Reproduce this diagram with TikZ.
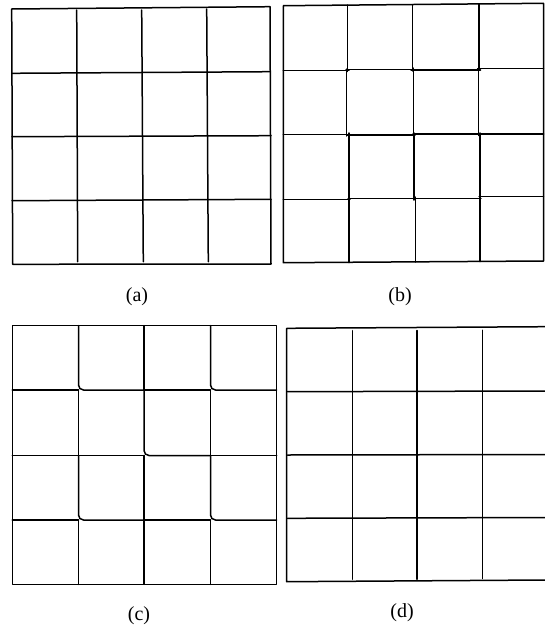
\documentclass[tikz,border=0pt]{standalone}
\usepackage{fontspec}
\setmainfont{Liberation Serif}
\begin{document}
\begin{tikzpicture}[x=1pt,y=-1pt,
  gridline/.style={line width=1.5pt,line cap=round,line join=round,black},
  caption/.style={font=\fontsize{20}{23}\selectfont,inner sep=0pt}]
\useasboundingbox (0,0) rectangle (545,632);
% ---------- (a) regular grid ----------
\draw[gridline] (11.7,9)--(270,6.7)--(271,264)--(12.7,264.3)--cycle;
\draw[gridline] (76.7,10)--(77.7,261.7);
\draw[gridline] (141.7,10)--(143.3,261.7);
\draw[gridline] (206.7,9)--(208.3,261.7);
\draw[gridline] (12,73.3)--(270,71.7);
\draw[gridline] (12,136.7)--(271,135.7);
\draw[gridline] (12,200.7)--(271,199.3);
% ---------- (b) staggered grid ----------
\draw[gridline] (283.3,5.7)--(543.5,3.3)--(543.5,261)--(283.3,262.7)--cycle;
% vertical segments: x / ytop / ybottom
\foreach \x/\ya/\yb in {
  347.7/5/71.5, 346.7/69/136, 349/133/200, 349/197/262.5,
  412.3/4.5/71, 413.3/68/136, 414/133/200, 415.3/197/262,
  479/4/70, 478.3/67/135.5, 480/133/199, 480/196/261.5}
  \draw[gridline] (\x,\ya)--(\x,\yb);
% horizontal segments: y / xleft / xright
\foreach \y/\xa/\xb in {
  70.7/283.3/349, 69.3/346/414.5, 70/411/480.5, 68.3/477.5/543.5,
  134.3/283.3/348, 135/347/415, 134/413/481, 134/477.5/543.5,
  199.3/283.3/350, 198.3/348/416, 198.3/413/481, 196.7/479/543.5}
  \draw[gridline] (\xa,\y)--(\xb,\y);
% ---------- (c) grid with rounded corners ----------
\def\cxa{12.3}\def\cxb{78.5}\def\cxc{144}\def\cxd{210.5}\def\cxe{276.7}
\def\cya{325.7}\def\cyb{390}\def\cyc{455.5}\def\cyd{520}\def\cye{584.3}
\draw[gridline] (\cxa,\cya) rectangle (\cxe,\cye);
% rounded junctions
\draw[gridline,rounded corners=5pt] (\cxb,\cya)--(\cxb,\cyb)--(\cxc,\cyb);
\draw[gridline,rounded corners=5pt] (\cxd,\cya)--(\cxd,\cyb)--(\cxe,\cyb);
\draw[gridline,rounded corners=5pt] (\cxc,\cyb)--(\cxc,\cyc)--(\cxd,\cyc);
\draw[gridline,rounded corners=5pt] (\cxb,\cyc)--(\cxb,\cyd)--(\cxc,\cyd);
\draw[gridline,rounded corners=5pt] (\cxd,\cyc)--(\cxd,\cyd)--(\cxe,\cyd);
% straight vertical segments
\draw[gridline] (\cxb,\cyb)--(\cxb,\cyc);
\draw[gridline] (\cxb,\cyd)--(\cxb,\cye);
\draw[gridline] (\cxc,\cya)--(\cxc,\cyb);
\draw[gridline] (\cxc,\cyc)--(\cxc,\cye);
\draw[gridline] (\cxd,\cyb)--(\cxd,\cyc);
\draw[gridline] (\cxd,\cyd)--(\cxd,\cye);
% straight horizontal segments
\draw[gridline] (\cxa,\cyb)--(\cxb,\cyb);
\draw[gridline] (\cxc,\cyb)--(\cxd,\cyb);
\draw[gridline] (\cxa,\cyc)--(\cxc,\cyc);
\draw[gridline] (\cxd,\cyc)--(\cxe,\cyc);
\draw[gridline] (\cxa,\cyd)--(\cxb,\cyd);
\draw[gridline] (\cxc,\cyd)--(\cxd,\cyd);
% ---------- (d) grid open on the right ----------
\draw[gridline] (545,326.7)--(286.7,328.3)--(286.7,581.7)--(545,580);
\draw[gridline] (352.3,330.7)--(352.3,579.3);
\draw[gridline] (417,330.5)--(417,579.3);
\draw[gridline] (482.3,330.3)--(482.3,578.5);
\draw[gridline] (287.5,391.7)--(545,391);
\draw[gridline] (287.5,455)--(545,454.5);
\draw[gridline] (287.5,518.3)--(545,517.5);
% ---------- captions ----------
\node[caption] (capa) at (137,297) {(a)};
\node[caption] (capb) at (400,297) {(b)};
\node[caption] (capc) at (139,616) {(c)};
\node[caption] (capd) at (402,613) {(d)};
\end{tikzpicture}
\end{document}
